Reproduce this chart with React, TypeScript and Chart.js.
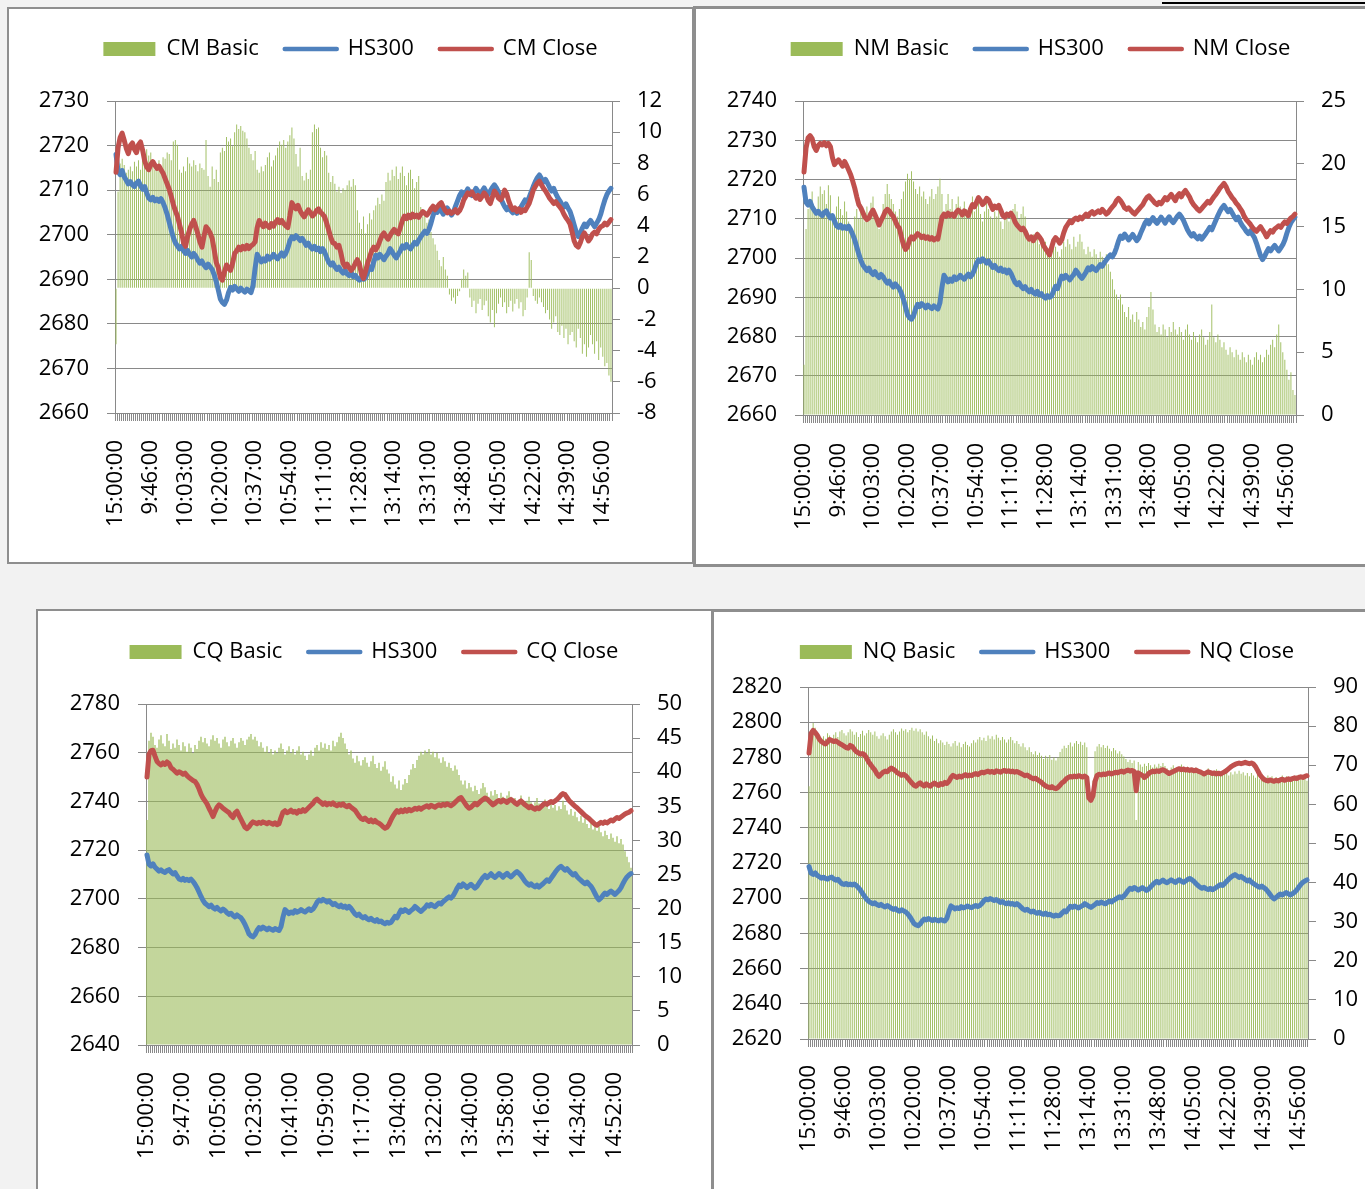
import React, { useEffect, useRef } from 'react';
import { Chart, registerables } from 'chart.js';

Chart.register(...registerables);

const FONT = "'Open Sans', sans-serif";
const GREEN = '#9bbb59';
const BLUE = '#4f81bd';
const RED = '#c0504d';
const GRID = '#898989';
const PANEL_BORDER = '#8e8e8e';

// Category axis: previous close, then every minute of the two sessions
function buildTimes(): string[] {
  const out: string[] = ['15:00:00'];
  const fmt = (m: number) => `${Math.floor(m / 60)}:${String(m % 60).padStart(2, '0')}:00`;
  for (let m = 9 * 60 + 30; m <= 11 * 60 + 30; m++) out.push(fmt(m));
  for (let m = 13 * 60; m <= 15 * 60; m++) out.push(fmt(m));
  return out;
}
const TIMES = buildTimes();

const HS300 = [
  2718.0, 2714.2, 2713.5, 2714.4, 2713.0, 2712.2, 2711.4, 2711.9, 2711.2, 2710.8,
  2711.6, 2712.0, 2711.0, 2710.2, 2710.8, 2709.4, 2708.2, 2707.8, 2708.4, 2707.6,
  2708.0, 2707.5, 2708.1, 2707.2, 2706.0, 2704.6, 2702.8, 2701.0, 2699.4, 2698.2,
  2697.5, 2696.8, 2697.4, 2696.4, 2695.8, 2696.5, 2695.6, 2695.0, 2695.8, 2695.2,
  2694.3, 2693.6, 2694.1, 2693.2, 2692.6, 2693.4, 2692.8, 2692.2, 2691.0, 2689.5,
  2687.6, 2685.6, 2684.8, 2684.4, 2685.3, 2687.0, 2688.2, 2687.6, 2688.4, 2687.9,
  2687.3, 2688.0, 2687.5, 2687.1, 2687.8, 2687.4, 2687.0, 2688.6, 2692.5, 2695.6,
  2694.8, 2693.9, 2694.6, 2694.1, 2695.2, 2694.5, 2694.9, 2695.6, 2695.0, 2694.6,
  2695.3, 2695.9, 2695.2, 2695.8, 2697.0, 2698.6, 2699.5, 2699.1, 2699.8, 2699.3,
  2698.7, 2699.2, 2698.4, 2697.6, 2698.1, 2697.3, 2696.8, 2697.4, 2696.6, 2697.0,
  2696.2, 2696.9, 2696.1, 2694.9, 2693.8, 2693.2, 2693.7, 2692.8, 2692.2, 2692.7,
  2691.9, 2691.4, 2692.0, 2691.2, 2690.8, 2691.5, 2690.6, 2690.9, 2690.2, 2689.8,
  2690.4, 2690.0, 2690.3, 2691.6, 2692.8, 2692.2, 2693.9, 2695.4, 2694.8, 2695.6,
  2695.0, 2694.4, 2695.2, 2695.8, 2696.9, 2696.2, 2695.4, 2694.8, 2695.6, 2696.4,
  2697.5, 2697.0, 2697.8, 2697.2, 2696.8, 2697.6, 2698.3, 2697.9, 2698.8, 2699.5,
  2700.2, 2700.8, 2700.3, 2701.2, 2702.6, 2704.3, 2705.6, 2705.0, 2706.1, 2705.4,
  2704.6, 2705.3, 2706.0, 2705.2, 2704.4, 2705.1, 2706.4, 2707.6, 2708.8, 2709.6,
  2708.7, 2709.5, 2710.3, 2709.4, 2708.8, 2709.6, 2710.4, 2709.7, 2708.9, 2709.8,
  2710.5, 2709.6, 2709.0, 2709.8, 2710.6, 2711.2, 2710.5, 2709.6, 2708.4, 2707.2,
  2706.3, 2705.6, 2706.2, 2705.4, 2704.9, 2705.6, 2704.8, 2705.5, 2706.2, 2707.0,
  2707.8, 2707.2, 2708.4, 2709.6, 2710.8, 2711.9, 2712.8, 2713.4, 2712.6, 2711.8,
  2712.4, 2711.5, 2710.6, 2709.8, 2710.4, 2709.2, 2708.3, 2707.6, 2706.8, 2706.2,
  2706.9, 2706.0, 2705.2, 2703.8, 2702.2, 2700.6, 2699.6, 2700.4, 2701.5, 2702.4,
  2701.8, 2702.6, 2703.2, 2702.5, 2701.8, 2702.6, 2703.4, 2704.6, 2706.3, 2707.8,
  2709.0, 2709.8, 2710.4,
];

const CM_CLOSE = [
  2714.0, 2719.5, 2721.8, 2722.8, 2721.2, 2719.4, 2718.2, 2720.0, 2720.6, 2719.2,
  2718.4, 2720.2, 2720.8, 2719.0, 2716.6, 2715.2, 2714.6, 2715.8, 2716.4, 2715.6,
  2714.9, 2715.4, 2714.6, 2713.8, 2712.6, 2711.4, 2710.2, 2708.6, 2706.8, 2705.4,
  2704.2, 2702.4, 2700.6, 2698.2, 2697.4, 2699.6, 2701.2, 2702.4, 2703.2, 2701.8,
  2700.2, 2698.4, 2697.2, 2699.6, 2701.8, 2701.2, 2700.4, 2699.2, 2696.6, 2693.8,
  2692.6, 2690.4, 2689.8, 2691.6, 2693.2, 2692.6, 2692.0, 2693.6, 2695.8, 2696.4,
  2697.2, 2696.6, 2697.4, 2696.8, 2697.6, 2696.9, 2697.5, 2697.8, 2698.4, 2701.6,
  2703.2, 2702.4, 2701.8, 2702.6, 2702.0, 2701.6, 2702.5, 2701.9, 2702.8, 2703.4,
  2702.7, 2703.2, 2702.5, 2702.0, 2701.6, 2704.2, 2707.2, 2706.4, 2705.8, 2706.6,
  2705.4, 2704.6, 2704.0, 2704.8, 2705.6, 2705.0, 2704.2, 2704.6, 2705.4, 2705.8,
  2705.0, 2704.6, 2704.0, 2702.6, 2701.0, 2699.4, 2698.2, 2698.0, 2697.2, 2697.6,
  2695.8, 2693.6, 2692.8, 2693.4, 2692.6, 2692.0, 2692.6, 2693.6, 2694.4, 2693.4,
  2691.2, 2690.2, 2691.8, 2693.6, 2695.0, 2696.4, 2697.2, 2696.6, 2697.4, 2698.6,
  2699.8, 2700.4, 2699.6, 2699.0, 2699.8, 2700.6, 2701.2, 2700.6, 2700.2, 2701.6,
  2703.2, 2704.2, 2703.6, 2704.4, 2703.8, 2704.6, 2704.0, 2704.4, 2703.9, 2704.6,
  2705.2, 2704.8, 2704.4, 2705.0, 2705.8, 2706.4, 2705.6, 2706.2, 2706.8, 2707.2,
  2706.2, 2705.4, 2704.9, 2705.3, 2704.8, 2705.1, 2705.6, 2704.9, 2705.4, 2706.4,
  2707.8, 2708.6, 2709.4, 2709.0, 2709.6, 2708.8, 2708.2, 2708.8, 2707.9, 2708.6,
  2709.4, 2708.8, 2707.6, 2707.0, 2708.4, 2709.8, 2709.2, 2708.2, 2707.8, 2708.6,
  2710.0, 2709.2, 2707.6, 2706.4, 2705.6, 2706.0, 2705.2, 2705.8, 2705.0, 2705.6,
  2705.4, 2706.2, 2707.0, 2708.4, 2710.0, 2710.8, 2711.6, 2712.0, 2711.2, 2710.4,
  2709.8, 2709.0, 2708.2, 2707.6, 2707.0, 2707.4, 2706.8, 2706.2, 2705.6, 2704.6,
  2703.8, 2703.2, 2702.4, 2700.6, 2698.6, 2697.6, 2697.2, 2698.2, 2699.6, 2700.4,
  2699.6, 2698.6, 2699.2, 2700.2, 2700.6, 2700.2, 2701.2, 2701.8, 2702.0, 2702.6,
  2702.2, 2702.8, 2703.4,
];

const CM_BASIC = [
  -3.6, 6.2, 8.0, 8.3, 7.9, 7.4, 7.6, 7.8, 7.5, 8.1,
  7.8, 8.2, 7.6, 8.4, 8.6, 8.9, 8.5, 8.7, 8.0, 7.6,
  7.9, 8.2, 7.4, 8.4, 8.3, 8.7, 8.6, 8.2, 9.4, 9.5,
  9.2, 7.6, 7.4, 7.8, 7.5, 8.4, 8.0, 7.8, 8.2, 7.9,
  7.5, 8.0, 7.7, 7.6, 9.5, 7.2, 6.5, 7.8, 7.0, 7.6,
  6.8, 8.7, 9.0, 8.8, 9.7, 9.4, 9.6, 9.1, 10.0, 10.5,
  10.2, 10.4, 10.1, 10.0, 9.6, 9.0, 8.6, 8.2, 8.8, 7.6,
  7.4, 7.8, 7.5, 7.9, 8.4, 8.7, 7.8, 8.2, 8.5, 9.0,
  9.4, 9.2, 9.5, 9.0, 9.4, 9.8, 10.3, 9.6, 8.6, 7.8,
  9.0, 7.2, 6.9, 7.4, 7.0, 7.6, 10.0, 10.5, 10.2, 10.3,
  9.0, 8.4, 8.8, 8.5, 7.4, 6.8, 7.2, 6.7, 6.2, 6.5,
  6.1, 6.4, 6.3, 6.6, 6.9, 6.5, 7.0, 6.6, 5.0, 4.2,
  3.8, 4.6, 3.5, 4.1, 4.8, 4.4, 5.0, 5.3, 5.8, 5.4,
  6.0, 5.6, 6.8, 7.4, 6.9, 7.6, 7.2, 7.8, 7.0, 7.4,
  7.8, 7.2, 6.6, 7.4, 7.6, 7.0, 6.4, 6.8, 7.2, 5.2,
  4.6, 5.0, 4.2, 4.4, 3.6, 3.2, 2.8, 2.4, 1.8, 1.4,
  2.0, 1.2, 0.8, -0.4, -0.8, -0.6, -1.0, -0.5, -0.2, 0.6,
  1.2, 0.8, 1.0, -0.6, -1.2, -0.8, -1.6, -1.0, -0.7, -1.4,
  -1.1, -0.8, -1.8, -2.2, -1.4, -2.5, -1.6, -1.0, -0.6, -1.2,
  -0.9, -1.6, -1.2, -0.8, -1.5, -1.0, -0.7, -1.3, -0.9, -1.8,
  -1.4, -0.6, 2.3, 1.8, -0.5, -0.8, -1.0, -0.6, -0.9, -1.2,
  -1.6, -1.4, -2.0, -2.6, -2.2, -1.8, -2.8, -3.0, -2.4, -3.2,
  -2.6, -3.6, -3.0, -2.8, -3.4, -3.8, -2.6, -3.2, -4.2, -3.6,
  -4.4, -3.8, -3.0, -3.6, -4.2, -3.4, -4.6, -3.8, -4.4, -5.0,
  -4.8, -5.6, -6.0,
];

const NM_CLOSE = [
  2721.9, 2728.0, 2730.6, 2731.2, 2730.4, 2728.4, 2727.4, 2728.6, 2729.2, 2728.8,
  2729.4, 2728.6, 2729.2, 2728.4, 2725.6, 2723.8, 2724.4, 2725.0, 2724.2, 2723.4,
  2724.6, 2723.6, 2722.4, 2721.2, 2719.6, 2717.8, 2715.6, 2713.6, 2712.8, 2711.6,
  2710.4, 2709.8, 2710.2, 2711.4, 2712.2, 2711.0, 2709.8, 2708.4, 2709.6, 2710.6,
  2711.8, 2712.4, 2712.0, 2711.2, 2710.6, 2709.4, 2708.2, 2707.6, 2705.4, 2703.4,
  2702.2, 2702.8, 2704.6, 2705.4, 2704.8, 2705.6, 2706.2, 2705.8, 2705.2, 2705.6,
  2705.0, 2705.4, 2704.8, 2705.2, 2704.6, 2705.0, 2704.8, 2707.6, 2710.4, 2711.2,
  2710.6, 2711.4, 2710.8, 2711.2, 2710.6, 2711.6, 2712.2, 2711.8, 2711.0, 2712.0,
  2711.4, 2710.8, 2712.4, 2713.6, 2713.0, 2714.2, 2715.4, 2714.6, 2713.6, 2714.2,
  2715.2, 2714.8, 2713.6, 2712.4, 2713.2, 2712.8, 2713.4, 2712.2, 2710.8, 2710.4,
  2711.2, 2710.8, 2711.4, 2710.6, 2709.2, 2708.4, 2707.8, 2707.2, 2707.6, 2706.8,
  2705.6, 2704.8, 2705.4, 2704.4, 2705.2, 2706.0, 2705.4, 2704.6, 2703.2, 2702.4,
  2701.6, 2700.8, 2702.6, 2704.4, 2705.2, 2704.6, 2703.8, 2704.6, 2706.4, 2707.8,
  2708.6, 2709.4, 2709.0, 2709.8, 2710.2, 2709.8, 2710.4, 2710.0, 2710.6, 2711.2,
  2710.6, 2711.4, 2711.8, 2711.2, 2711.6, 2712.0, 2711.6, 2712.4, 2711.8, 2711.2,
  2711.6, 2712.4, 2713.0, 2713.6, 2714.6, 2715.2, 2714.6, 2713.8, 2712.8, 2712.4,
  2712.8, 2712.2, 2711.6, 2711.2, 2711.8, 2712.4, 2713.0, 2713.6, 2714.6, 2715.4,
  2715.8, 2715.2, 2714.6, 2714.0, 2713.6, 2714.2, 2713.8, 2714.6, 2715.4, 2714.8,
  2715.6, 2716.2, 2715.4, 2714.6, 2715.8, 2716.4, 2715.6, 2716.6, 2717.2, 2716.4,
  2715.6, 2714.4, 2713.6, 2713.0, 2712.4, 2712.0, 2712.6, 2713.2, 2713.8, 2714.4,
  2714.0, 2714.8, 2715.6, 2716.2, 2717.0, 2717.8, 2718.4, 2719.0, 2718.2, 2717.0,
  2716.2, 2715.4, 2714.8, 2714.0, 2713.4, 2712.6, 2711.8, 2710.6, 2709.8, 2709.2,
  2708.6, 2707.8, 2707.2, 2706.8, 2707.4, 2708.0, 2707.2, 2706.4, 2705.4, 2706.2,
  2707.0, 2706.6, 2707.4, 2707.8, 2708.2, 2707.8, 2708.6, 2709.2, 2708.8, 2709.6,
  2710.2, 2710.6, 2711.2,
];

const NM_BASIC = [
  4.0, 14.8, 16.4, 17.2, 17.8, 16.6, 16.2, 17.4, 18.2, 17.6,
  17.9, 16.8, 18.3, 17.5, 15.8, 15.2, 16.6, 17.4, 16.4, 15.9,
  17.0, 16.2, 15.4, 14.8, 14.6, 15.8, 16.4, 15.6, 16.8, 16.2,
  15.4, 16.6, 15.8, 16.9, 17.4, 16.2, 15.6, 14.8, 15.6, 16.8,
  17.6, 18.4, 17.6, 17.2, 16.8, 16.2, 15.8, 16.4, 17.2, 17.8,
  18.6, 19.2, 18.8, 19.4, 18.6, 18.0, 17.6, 18.2, 17.4, 17.8,
  17.2, 16.8, 17.4, 18.0, 17.2, 17.6, 18.2, 18.8, 17.6, 16.2,
  16.8, 17.6, 16.4, 17.2, 16.0, 16.8, 17.4, 16.6, 16.2, 17.0,
  16.4, 15.6, 16.8, 17.4, 16.2, 16.6, 17.2, 16.0, 15.4, 16.2,
  17.0, 16.4, 15.8, 15.6, 16.2, 15.8, 16.6, 15.4, 14.8, 15.6,
  16.2, 15.4, 16.0, 16.4, 16.8, 16.2, 15.6, 16.0, 16.6, 15.8,
  14.6, 14.2, 13.8, 14.4, 14.0, 14.6, 13.6, 14.2, 13.4, 13.8,
  13.2, 12.8, 13.6, 14.0, 13.4, 13.0, 12.6, 13.2, 13.8, 13.4,
  14.0, 13.6, 13.2, 14.2, 13.4, 13.8, 14.4, 13.8, 13.2, 12.8,
  13.4, 13.0, 12.6, 13.2, 12.8, 12.4, 13.0, 12.6, 12.2, 12.8,
  12.0, 11.4, 10.8, 10.0, 9.6, 9.2, 9.6, 8.8, 8.2, 7.8,
  8.6, 7.6, 8.0, 7.4, 8.2, 7.6, 7.0, 7.4, 6.8, 7.8,
  8.6, 9.8, 8.4, 7.2, 6.6, 7.0, 6.4, 7.2, 6.8, 6.2,
  7.0, 6.6, 7.4, 6.8, 6.4, 7.0, 6.6, 6.0, 6.8, 7.2,
  6.4, 6.0, 6.6, 6.2, 5.8, 6.4, 6.8, 6.2, 5.6, 6.0,
  6.6, 8.8, 6.2, 5.8, 6.4, 6.0, 5.4, 5.8, 5.2, 4.8,
  5.4, 5.0, 4.6, 5.2, 4.8, 4.4, 5.0, 4.6, 4.2, 4.8,
  4.4, 4.0, 4.6, 5.0, 4.4, 4.8, 4.2, 4.6, 5.2, 4.8,
  5.6, 6.0, 5.4, 6.4, 7.2, 5.8, 5.0, 4.4, 3.6, 2.8,
  3.4, 2.0, 1.6,
];

const CQ_CLOSE = [
  2750.0, 2759.4, 2760.8, 2761.0, 2758.6, 2756.4, 2755.6, 2755.0, 2755.8, 2755.2,
  2756.2, 2755.6, 2753.8, 2753.2, 2752.4, 2751.6, 2752.2, 2751.8, 2751.2, 2751.6,
  2750.6, 2749.8, 2749.2, 2748.6, 2748.2, 2747.0, 2745.2, 2743.0, 2741.4, 2740.2,
  2739.0, 2737.2, 2735.6, 2733.8, 2735.8, 2737.6, 2738.6, 2738.0, 2737.2, 2736.6,
  2736.0, 2735.4, 2734.2, 2733.4, 2735.2, 2736.0, 2734.2, 2732.6, 2731.0, 2729.4,
  2728.8, 2729.6, 2730.8, 2731.6, 2731.2, 2730.8, 2731.4, 2731.0, 2731.6, 2731.2,
  2730.8, 2731.4, 2731.0, 2730.6, 2731.2, 2730.4, 2730.8, 2733.4, 2735.6, 2736.2,
  2735.4, 2735.8, 2736.4, 2735.6, 2736.0, 2735.2, 2736.2, 2735.8, 2736.6, 2736.0,
  2736.8, 2737.6, 2738.4, 2739.2, 2740.4, 2741.0, 2740.2, 2739.6, 2738.8, 2739.4,
  2738.6, 2739.2, 2738.8, 2739.4, 2738.6, 2738.2, 2738.8, 2738.4, 2739.0, 2738.2,
  2737.8, 2738.4, 2737.6, 2737.0, 2736.4, 2735.2, 2734.0, 2733.0, 2732.6, 2733.2,
  2732.4, 2731.8, 2732.4, 2731.6, 2732.2, 2731.4, 2731.0, 2730.4, 2729.6, 2729.0,
  2729.4, 2730.6, 2732.4, 2734.0, 2735.2, 2736.2, 2735.6, 2736.4, 2735.8, 2736.6,
  2736.0, 2736.8, 2736.2, 2736.6, 2737.2, 2736.8, 2737.4, 2736.8, 2737.4, 2737.8,
  2738.2, 2737.6, 2738.4, 2738.0, 2737.6, 2738.2, 2738.6, 2738.2, 2738.8, 2738.4,
  2739.0, 2738.6, 2738.2, 2738.8, 2739.6, 2740.4, 2741.2, 2741.6, 2740.4, 2739.2,
  2738.0, 2737.2, 2737.6, 2738.4, 2739.2, 2738.6, 2739.4, 2740.2, 2740.8, 2741.4,
  2741.0, 2740.2, 2739.4, 2738.6, 2739.2, 2740.0, 2740.4, 2739.8, 2740.6, 2740.2,
  2739.6, 2740.4, 2740.8, 2740.2, 2739.4, 2738.8, 2739.6, 2740.2, 2739.4, 2738.6,
  2738.0, 2737.4, 2738.0, 2737.2, 2736.8, 2737.4, 2737.0, 2737.8, 2738.6, 2739.2,
  2738.8, 2739.4, 2740.0, 2739.6, 2740.2, 2740.8, 2741.6, 2742.6, 2743.2, 2742.8,
  2741.6, 2740.4, 2739.6, 2738.8, 2738.0, 2737.4, 2736.6, 2735.8, 2735.0, 2734.2,
  2733.6, 2733.0, 2732.2, 2731.4, 2730.6, 2730.2, 2730.8, 2731.4, 2731.0, 2731.6,
  2731.2, 2731.8, 2732.4, 2732.0, 2732.8, 2733.4, 2733.0, 2733.6, 2734.2, 2734.8,
  2735.2, 2735.6, 2736.2,
];

const CQ_BASIC = [
  33.0, 44.6, 45.8, 45.2, 44.0, 43.6, 44.8, 45.4, 44.2, 43.8,
  45.6, 44.6, 43.4, 44.2, 43.6, 44.8, 44.0, 43.2, 44.4, 43.8,
  43.0, 44.2, 43.6, 42.8, 44.0, 43.4, 44.6, 45.2, 44.4, 45.0,
  44.2, 43.8, 44.8, 45.4, 44.6, 45.0, 44.2, 43.6, 44.8, 45.2,
  44.4, 43.8, 44.6, 45.0, 44.2, 43.6, 44.4, 45.0, 44.6, 44.0,
  44.8, 45.2, 45.6, 44.8, 45.2, 44.6, 43.8, 44.4, 43.6, 43.0,
  43.8, 42.8, 43.4, 42.6, 43.2, 42.8, 43.6, 44.2, 43.4, 42.6,
  43.2, 43.8, 42.8, 43.4, 42.6, 43.2, 43.8, 42.6, 43.0, 42.4,
  41.8, 42.6, 43.2, 42.4, 43.6, 44.0, 43.2, 44.4, 43.6, 44.2,
  43.4, 44.0, 43.2, 44.6, 43.8, 44.4, 45.2, 45.8, 45.0, 44.2,
  43.4, 42.6, 43.2, 42.0, 41.4, 42.4, 41.6, 41.0, 41.8, 42.2,
  41.4, 40.8, 41.6, 42.4, 41.2, 40.6, 41.4, 40.2, 40.8, 41.6,
  40.4, 39.8, 38.6, 39.4, 38.2, 37.6, 38.8, 37.4, 38.2, 39.0,
  38.4, 39.6, 40.4, 41.2, 40.6, 41.8, 42.4, 43.0, 42.6, 43.2,
  42.8, 43.4, 42.6, 43.0, 42.2, 42.8, 42.0, 41.4, 42.2, 41.6,
  40.8, 41.4, 40.6, 40.2, 41.0, 40.4, 39.6, 38.8, 38.2, 38.8,
  37.6, 38.4, 37.8, 37.2, 38.0, 37.4, 36.8, 37.6, 38.4, 37.8,
  37.0, 36.4, 37.2, 36.6, 37.4, 36.8, 36.2, 37.0, 36.4, 35.8,
  36.6, 37.2, 36.4, 35.6, 36.2, 35.4, 36.0, 36.6, 35.8, 35.2,
  35.8, 36.4, 35.6, 35.0, 35.6, 36.2, 35.4, 34.8, 35.6, 36.0,
  35.2, 34.6, 35.4, 34.8, 35.2, 34.4, 35.0, 34.6, 35.8, 35.2,
  34.4, 33.8, 34.6, 33.6, 34.2, 33.4, 32.8, 33.6, 32.6, 33.2,
  32.4, 31.8, 32.6, 31.6, 32.2, 31.4, 32.0, 31.2, 30.6, 31.4,
  30.8, 30.2, 31.0, 30.4, 29.8, 30.6, 29.6, 30.2, 29.4, 28.4,
  27.6, 26.8, 26.0,
];

const NQ_CLOSE = [
  2782.5, 2793.6, 2795.4, 2794.2, 2792.6, 2790.4, 2789.0, 2788.2, 2787.6, 2788.8,
  2790.2, 2789.6, 2789.0, 2789.4, 2788.6, 2787.8, 2787.2, 2786.4, 2785.6, 2785.2,
  2786.8, 2786.2, 2784.6, 2783.2, 2782.6, 2781.8, 2782.2, 2781.4, 2779.6, 2777.4,
  2775.8, 2774.2, 2772.8, 2770.6, 2769.2, 2770.4, 2771.6, 2772.2, 2771.8, 2773.0,
  2774.0, 2773.2, 2772.4, 2771.2, 2770.6, 2769.8, 2770.4, 2769.6, 2768.2, 2766.8,
  2765.4, 2764.2, 2763.6, 2764.8, 2765.6, 2764.4, 2763.8, 2765.0, 2764.2, 2763.6,
  2764.8, 2765.4, 2764.6, 2764.0, 2765.2, 2764.6, 2765.8, 2765.2, 2766.4, 2768.6,
  2769.8, 2769.2, 2768.6, 2769.4, 2768.8, 2769.6, 2770.2, 2769.4, 2770.0, 2769.6,
  2770.4, 2770.8, 2770.2, 2771.0, 2771.6, 2771.2, 2771.8, 2772.2, 2771.6, 2772.0,
  2771.4, 2772.4, 2772.0, 2771.6, 2772.2, 2772.6, 2772.0, 2772.4, 2771.8, 2772.2,
  2771.6, 2772.0, 2771.4, 2770.8, 2770.2, 2769.6, 2770.0, 2769.2, 2768.4, 2767.8,
  2768.2, 2767.4, 2766.6, 2765.8, 2764.6, 2763.8, 2763.2, 2762.8, 2763.4, 2762.6,
  2762.2, 2763.0, 2764.2, 2765.6, 2766.4, 2767.8, 2768.6, 2769.2, 2768.8, 2769.4,
  2769.0, 2769.6, 2769.2, 2768.8, 2769.4, 2768.6, 2757.0, 2755.6, 2758.2, 2766.4,
  2769.8, 2770.4, 2770.0, 2770.6, 2770.2, 2770.8, 2771.2, 2770.6, 2771.0, 2771.6,
  2771.2, 2771.8, 2772.2, 2771.6, 2772.4, 2772.8, 2772.2, 2772.6, 2772.0, 2761.0,
  2771.2, 2770.4, 2769.8, 2768.6, 2769.4, 2770.8, 2771.6, 2772.2, 2771.8, 2772.4,
  2772.0, 2772.6, 2773.0, 2772.4, 2771.6, 2770.8, 2771.4, 2772.0, 2772.6, 2773.2,
  2773.6, 2773.0, 2773.4, 2772.8, 2773.2, 2772.6, 2773.0, 2772.4, 2772.8, 2772.2,
  2771.8, 2771.2, 2770.6, 2771.2, 2771.8, 2771.4, 2770.8, 2771.2, 2770.6, 2771.0,
  2770.6, 2771.2, 2771.8, 2772.6, 2773.6, 2774.6, 2775.4, 2776.0, 2776.4, 2776.8,
  2776.4, 2776.8, 2777.2, 2776.8, 2776.4, 2776.8, 2776.2, 2774.8, 2772.6, 2770.4,
  2768.8, 2767.6, 2767.0, 2766.6, 2767.2, 2766.8, 2766.4, 2767.0, 2766.6, 2767.2,
  2767.6, 2767.0, 2767.4, 2767.8, 2767.4, 2768.0, 2768.4, 2768.0, 2768.6, 2769.0,
  2768.6, 2769.2, 2769.6,
];

const NQ_BASIC = [
  64.6, 79.0, 80.8, 79.6, 78.4, 77.6, 76.2, 77.4, 76.8, 78.2,
  77.6, 76.4, 77.8, 78.4, 77.2, 78.6, 79.0, 78.2, 77.6, 78.4,
  79.2, 78.6, 77.8, 78.4, 77.2, 78.0, 78.8, 77.6, 78.2, 79.0,
  78.4, 77.8, 78.6, 77.4, 76.8, 77.6, 78.2, 77.4, 76.6, 77.8,
  78.6, 79.2, 78.4, 77.8, 78.6, 79.4, 78.8, 79.2, 78.4, 79.0,
  79.6, 78.8, 79.4, 78.6, 79.2, 78.4, 77.8, 78.6, 77.4, 76.8,
  77.6, 76.2, 76.8, 75.6, 76.4, 75.8, 75.2, 76.0, 75.4, 74.8,
  75.6, 76.2, 75.0, 75.8, 74.6, 75.4, 76.0, 75.2, 74.8, 75.6,
  76.4, 75.8, 76.6, 77.2, 76.4, 77.0, 76.2, 77.6, 76.8, 77.4,
  76.6, 77.8, 77.0, 76.4, 77.2, 76.6, 75.8, 76.6, 77.2, 76.4,
  75.6, 76.2, 75.4, 74.8, 75.6, 74.6, 73.8, 74.6, 73.4, 72.8,
  73.6, 72.6, 73.2, 72.4, 71.6, 72.4, 71.8, 72.6, 71.4, 72.0,
  71.2, 72.0, 73.4, 74.2, 75.0, 74.4, 75.2, 75.8, 74.8, 75.6,
  76.2, 75.4, 76.0, 75.2, 75.8, 74.6, 62.0, 60.4, 66.0, 73.6,
  74.8, 75.4, 74.6, 75.2, 74.4, 75.0, 74.2, 73.6, 74.4, 73.8,
  73.0, 73.6, 72.8, 72.2, 71.6, 70.8, 71.4, 70.6, 71.2, 56.0,
  70.8, 70.2, 69.6, 70.4, 69.8, 70.6, 70.0, 69.4, 70.2, 69.6,
  70.4, 69.8, 70.6, 69.8, 69.2, 68.6, 69.4, 70.0, 69.2, 68.6,
  69.4, 70.2, 69.6, 68.8, 69.6, 68.4, 69.2, 68.6, 69.4, 68.8,
  68.0, 68.6, 67.8, 68.4, 69.2, 68.4, 67.8, 68.6, 69.0, 68.2,
  67.6, 68.4, 67.8, 68.6, 67.4, 68.2, 67.6, 68.4, 67.8, 68.6,
  67.8, 68.2, 67.4, 68.0, 67.2, 68.0, 67.4, 66.8, 67.6, 66.4,
  67.0, 66.2, 66.8, 67.4, 66.6, 67.2, 66.4, 67.0, 66.2, 66.8,
  67.4, 66.6, 67.2, 66.4, 67.0, 66.2, 66.8, 67.4, 66.6, 67.2,
  66.6, 67.4, 66.0,
];

type Spec = {
  basicLabel: string;
  closeLabel: string;
  close: number[];
  basic: number[];
  yMin: number; yMax: number; yStep: number;
  y2Min: number; y2Max: number; y2Step: number;
  labelEvery: number;
  x: number; y: number; w: number; h: number;
  padLeft: number; padTop: number;
  leftW: number; rightW: number; bottomH: number; spacer: number;
  xPad: number; barPct: number;
};

const SPECS: Spec[] = [
  {
    basicLabel: 'CM Basic', closeLabel: 'CM Close', close: CM_CLOSE, basic: CM_BASIC,
    yMin: 2660, yMax: 2730, yStep: 10, y2Min: -8, y2Max: 12, y2Step: 2, labelEvery: 17,
    x: 9, y: 9, w: 683, h: 552, padLeft: 0, padTop: 3, leftW: 106, rightW: 80, bottomH: 148, spacer: 31, xPad: 19, barPct: 0.45,
  },
  {
    basicLabel: 'NM Basic', closeLabel: 'NM Close', close: NM_CLOSE, basic: NM_BASIC,
    yMin: 2660, yMax: 2740, yStep: 10, y2Min: 0, y2Max: 25, y2Step: 5, labelEvery: 17,
    x: 696, y: 9, w: 669, h: 554, padLeft: 20, padTop: 3, leftW: 87, rightW: 69, bottomH: 148, spacer: 31, xPad: 20, barPct: 0.45,
  },
  {
    basicLabel: 'CQ Basic', closeLabel: 'CQ Close', close: CQ_CLOSE, basic: CQ_BASIC,
    yMin: 2640, yMax: 2780, yStep: 20, y2Min: 0, y2Max: 50, y2Step: 5, labelEvery: 18,
    x: 38, y: 611, w: 672, h: 578, padLeft: 0, padTop: 4, leftW: 108, rightW: 78, bottomH: 144, spacer: 31, xPad: 19, barPct: 0.6,
  },
  {
    basicLabel: 'NQ Basic', closeLabel: 'NQ Close', close: NQ_CLOSE, basic: NQ_BASIC,
    yMin: 2620, yMax: 2820, yStep: 20, y2Min: 0, y2Max: 90, y2Step: 10, labelEvery: 17,
    x: 715, y: 611, w: 650, h: 578, padLeft: 14, padTop: 4, leftW: 79, rightW: 57, bottomH: 150, spacer: 14, xPad: 18, barPct: 0.45,
  },
];

function makeConfig(s: Spec): any {
  const font = { family: FONT, size: 22 };
  return {
    type: 'bar',
    data: {
      labels: TIMES,
      datasets: [
        {
          type: 'line', label: s.closeLabel, data: s.close, yAxisID: 'y',
          borderColor: RED, backgroundColor: RED, borderWidth: 5, pointRadius: 0,
          tension: 0, borderJoinStyle: 'round', borderCapStyle: 'round', order: 0,
        },
        {
          type: 'line', label: 'HS300', data: HS300, yAxisID: 'y',
          borderColor: BLUE, backgroundColor: BLUE, borderWidth: 5, pointRadius: 0,
          tension: 0, borderJoinStyle: 'round', borderCapStyle: 'round', order: 1,
        },
        {
          type: 'bar', label: s.basicLabel, data: s.basic, yAxisID: 'y2',
          backgroundColor: GREEN, borderWidth: 0, barPercentage: s.barPct, categoryPercentage: 1, order: 2,
        },
      ],
    },
    options: {
      responsive: false,
      animation: false,
      devicePixelRatio: 1,
      events: [],
      layout: { padding: { top: s.padTop, left: s.padLeft, right: 0, bottom: 0 } },
      plugins: {
        tooltip: { enabled: false },
        legend: {
          display: true,
          position: 'top',
          labels: {
            usePointStyle: true,
            pointStyleWidth: 52,
            boxHeight: 14,
            padding: 26,
            color: '#000',
            font,
            generateLabels: () => [
              { text: s.basicLabel, fillStyle: GREEN, strokeStyle: GREEN, lineWidth: 0, pointStyle: 'rect', hidden: false, datasetIndex: 2, fontColor: '#000' },
              { text: 'HS300', fillStyle: BLUE, strokeStyle: BLUE, lineWidth: 4.5, lineCap: 'round', pointStyle: 'line', hidden: false, datasetIndex: 1, fontColor: '#000' },
              { text: s.closeLabel, fillStyle: RED, strokeStyle: RED, lineWidth: 4.5, lineCap: 'round', pointStyle: 'line', hidden: false, datasetIndex: 0, fontColor: '#000' },
            ],
          },
        },
        title: {
          display: true,
          text: '',
          weight: 500,
          font: { size: 1, lineHeight: 1 },
          padding: { top: s.spacer - 1, bottom: 0 },
        },
      },
      scales: {
        x: {
          type: 'category',
          offset: true,
          grid: { display: true, drawOnChartArea: false, drawTicks: true, tickLength: 8, color: GRID, lineWidth: 1, offset: true },
          border: { display: true, color: GRID, width: 1 },
          ticks: {
            autoSkip: false,
            maxRotation: 90,
            minRotation: 90,
            padding: s.xPad,
            color: '#000',
            font,
            callback: (_v: any, i: number) => (i % s.labelEvery === 0 ? TIMES[i] : ''),
          },
          afterFit: (sc: any) => { sc.height = s.bottomH; },
        },
        y: {
          type: 'linear',
          position: 'left',
          min: s.yMin,
          max: s.yMax,
          ticks: { stepSize: s.yStep, padding: 18, color: '#000', font, callback: (v: any) => String(v) },
          grid: { color: GRID, lineWidth: 1, tickLength: 8, drawTicks: true },
          border: { display: true, color: GRID, width: 1 },
          afterFit: (sc: any) => { sc.width = s.leftW; },
        },
        y2: {
          type: 'linear',
          position: 'right',
          min: s.y2Min,
          max: s.y2Max,
          ticks: { stepSize: s.y2Step, padding: 17, color: '#000', font, callback: (v: any) => String(v) },
          grid: { drawOnChartArea: false, color: GRID, lineWidth: 1, tickLength: 8, drawTicks: true },
          border: { display: true, color: GRID, width: 1 },
          afterFit: (sc: any) => { sc.width = s.rightW; },
        },
      },
    },
  };
}

function ChartCanvas({ spec }: { spec: Spec }) {
  const ref = useRef<HTMLCanvasElement | null>(null);
  useEffect(() => {
    if (!ref.current) return;
    const chart = new Chart(ref.current, makeConfig(spec));
    return () => chart.destroy();
  }, [spec]);
  return (
    <canvas
      ref={ref}
      width={spec.w}
      height={spec.h}
      style={{ position: 'absolute', left: spec.x, top: spec.y, width: spec.w, height: spec.h }}
    />
  );
}

const PANELS = [
  { left: 7, top: 7, width: 687, height: 557, bw: 2 },
  { left: 693, top: 6, width: 720, height: 561, bw: 3 },
  { left: 36, top: 609, width: 677, height: 640, bw: 2 },
  { left: 711, top: 609, width: 720, height: 640, bw: 3 },
];

export default function App() {
  return (
    <div
      style={{
        position: 'absolute', left: 0, top: 0, width: 1365, height: 1189,
        overflow: 'hidden', background: '#f2f2f2',
      }}
    >
      {PANELS.map((p, i) => (
        <div
          key={i}
          style={{
            position: 'absolute', left: p.left, top: p.top, width: p.width, height: p.height,
            boxSizing: 'border-box', border: `${p.bw}px solid ${PANEL_BORDER}`, background: '#fff',
          }}
        />
      ))}
      <div style={{ position: 'absolute', left: 1162, top: 2, width: 203, height: 2, background: '#000' }} />
      {SPECS.map((s, i) => (
        <ChartCanvas key={i} spec={s} />
      ))}
    </div>
  );
}
